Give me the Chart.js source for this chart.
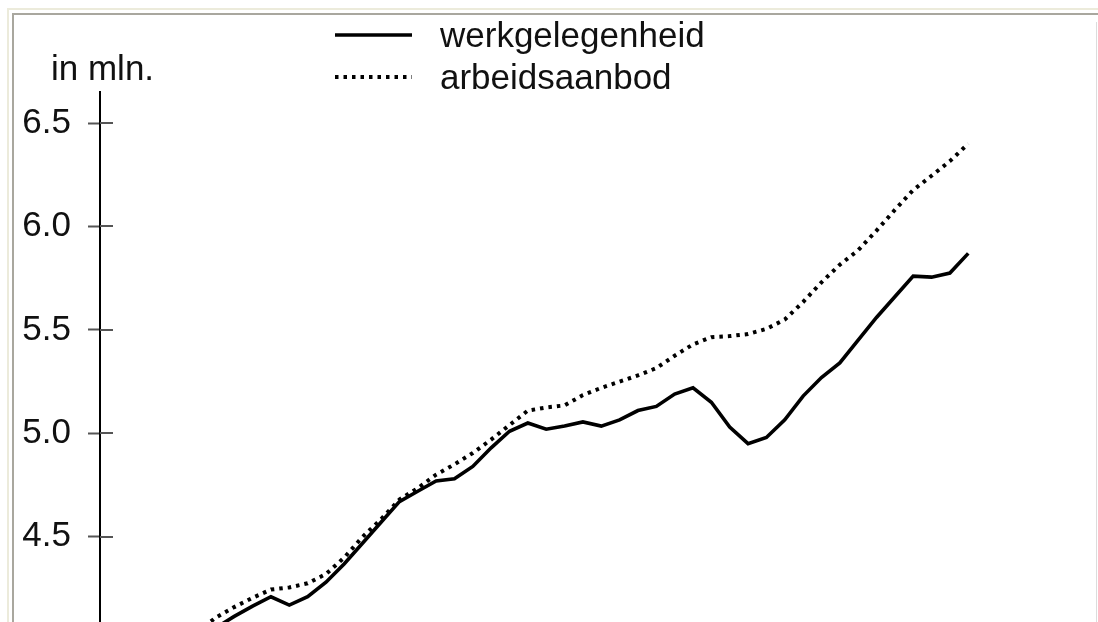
<!DOCTYPE html>
<html>
<head>
<meta charset="utf-8">
<script src="https://cdn.jsdelivr.net/npm/chart.js@4/dist/chart.umd.min.js"></script>
<style>
  html, body { margin: 0; padding: 0; background: #fff; overflow: hidden; }
  .frame { position: absolute; }
  #c { position: absolute; left: 0; top: 0; z-index: 2; }
</style>
</head>
<body>
<div class="frame" style="left:7px;top:8px;width:1091px;height:2px;background:#ecebdb"></div>
<div class="frame" style="left:7px;top:8px;width:2px;height:614px;background:#ecebdb"></div>
<div class="frame" style="left:12px;top:13px;width:1086px;height:2px;background:#a9a79e"></div>
<div class="frame" style="left:12px;top:13px;width:2px;height:609px;background:#a9a79e"></div>
<div class="frame" style="left:1096px;top:22px;width:1px;height:600px;background:#dcdcdc"></div>
<canvas id="c" width="1098" height="622"></canvas>
<script>
const years = [1953, 1954, 1955, 1956, 1957, 1958, 1959, 1960, 1961, 1962, 1963, 1964,
  1965, 1966, 1967, 1968, 1969, 1970, 1971, 1972, 1973, 1974, 1975, 1976, 1977, 1978,
  1979, 1980, 1981, 1982, 1983, 1984, 1985, 1986, 1987, 1988, 1989, 1990, 1991, 1992,
  1993, 1994, 1995];

// werkgelegenheid (mln.)
const werkgelegenheid = [4.00, 4.06, 4.115, 4.165, 4.21, 4.17, 4.21, 4.28, 4.37, 4.47, 4.57, 4.67,
  4.72, 4.77, 4.78, 4.84, 4.93, 5.01, 5.05, 5.02, 5.035, 5.055, 5.035, 5.065, 5.11, 5.13,
  5.19, 5.22, 5.15, 5.03, 4.95, 4.98, 5.065, 5.18, 5.27, 5.34, 5.45, 5.56, 5.66, 5.76,
  5.755, 5.775, 5.87];

// arbeidsaanbod (mln.)
const arbeidsaanbod = [4.04, 4.11, 4.16, 4.205, 4.245, 4.255, 4.275, 4.32, 4.40, 4.50, 4.585, 4.68,
  4.735, 4.80, 4.85, 4.905, 4.97, 5.04, 5.11, 5.125, 5.135, 5.185, 5.22, 5.25, 5.28, 5.315,
  5.375, 5.43, 5.465, 5.47, 5.48, 5.505, 5.55, 5.635, 5.73, 5.815, 5.885, 5.98, 6.08, 6.176,
  6.245, 6.316, 6.40];

const yTicks = [4.5, 5.0, 5.5, 6.0, 6.5];

const FONT = '"Liberation Sans", Arial, Helvetica, sans-serif';
const TEXT = '#111';
const TICK = '#555';

// short tick stubs that cross into the plot area, plus the legend and unit label
const decor = {
  id: 'decor',
  afterDraw(chart) {
    const ctx = chart.ctx;
    const y = chart.scales.y;
    const left = chart.chartArea.left;
    ctx.save();
    ctx.strokeStyle = TICK;
    ctx.lineWidth = 2;
    y.ticks.forEach(t => {
      const py = Math.round(y.getPixelForValue(t.value));
      ctx.beginPath();
      ctx.moveTo(left, py);
      ctx.lineTo(left + 13, py);
      ctx.stroke();
    });

    ctx.fillStyle = TEXT;
    ctx.font = '35px ' + FONT;
    ctx.textBaseline = 'alphabetic';
    ctx.fillText('in mln.', 51, 80);

    const rows = [35, 77];
    chart.data.datasets.forEach((ds, i) => {
      const ry = rows[i];
      ctx.strokeStyle = ds.borderColor;
      ctx.lineWidth = ds.borderWidth;
      ctx.setLineDash(ds.borderDash || []);
      ctx.beginPath();
      ctx.moveTo(335, ry);
      ctx.lineTo(412, ry);
      ctx.stroke();
      ctx.setLineDash([]);
      ctx.fillStyle = TEXT;
      ctx.fillText(ds.label, 440, ry + 12);
    });
    ctx.restore();
  }
};

new Chart(document.getElementById('c'), {
  type: 'line',
  data: {
    labels: years,
    datasets: [{
      label: 'werkgelegenheid',
      data: years.map((yr, i) => ({ x: yr, y: werkgelegenheid[i] })),
      borderColor: '#000',
      borderWidth: 3.6,
      pointRadius: 0,
      tension: 0
    }, {
      label: 'arbeidsaanbod',
      data: years.map((yr, i) => ({ x: yr, y: arbeidsaanbod[i] })),
      borderColor: '#000',
      borderWidth: 4,
      borderDash: [3.5, 5],
      pointRadius: 0,
      tension: 0
    }]
  },
  options: {
    responsive: false,
    animation: false,
    layout: { padding: { top: 92, right: 8, bottom: 0, left: 0 } },
    plugins: {
      legend: { display: false },
      tooltip: { enabled: false }
    },
    scales: {
      x: {
        type: 'linear',
        display: false,
        min: 1947.684,
        max: 2001.635
      },
      y: {
        min: 4.088,
        max: 6.65,
        afterBuildTicks: s => { s.ticks = yTicks.map(v => ({ value: v })); },
        afterFit: s => { s.width = 100; s.paddingTop = 0; s.paddingBottom = 0; },
        border: { display: true, color: '#000', width: 2 },
        grid: {
          drawOnChartArea: false,
          drawTicks: true,
          tickLength: 12,
          tickColor: TICK,
          tickWidth: 2
        },
        ticks: {
          padding: 17,
          color: TEXT,
          font: { family: FONT, size: 35 },
          callback: v => v.toFixed(1)
        }
      }
    }
  },
  plugins: [decor]
});
</script>
</body>
</html>
